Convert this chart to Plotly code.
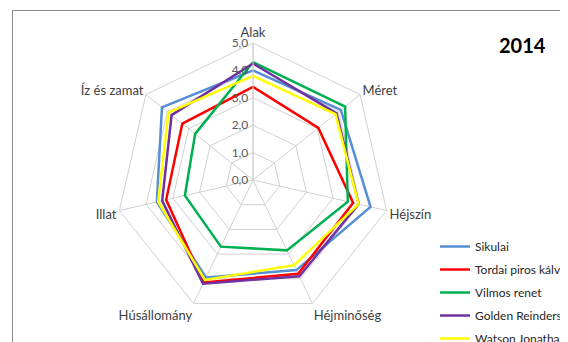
import plotly.graph_objects as go

categories = ["Alak", "Méret", "Héjszín", "Héjminőség", "Húsállomány", "Illat", "Íz és zamat"]

series_names = ["Sikulai", "Tordai piros kálvi", "Vilmos renet", "Golden Reinders", "Watson Jonathan"]
sikulai = [4.0, 4.1, 4.4, 3.65, 3.95, 3.6, 4.25]
tordai = [3.4, 3.05, 3.75, 3.8, 4.15, 3.25, 3.3]
vilmos = [4.3, 4.3, 3.55, 2.85, 2.7, 2.55, 2.7]
golden = [4.25, 3.9, 3.95, 3.9, 4.2, 3.4, 3.8]
watson = [3.8, 3.85, 3.95, 3.45, 4.05, 3.55, 3.95]
series_values = [sikulai, tordai, vilmos, golden, watson]
colors = ["#558ED5", "#FF0000", "#00B050", "#7030A0", "#FFFF00"]

OFF = 8  # page body margin offset
W, H = 568 - OFF, 342 - OFF
cx, cy, R = 253 - OFF, 180 - OFF, 137

fig = go.Figure()
for name, vals, col in zip(series_names, series_values, colors):
    fig.add_trace(go.Scatterpolar(
        r=vals + vals[:1], theta=categories + categories[:1],
        mode="lines", name=name, line=dict(color=col, width=2.5),
        legendgroup=name,
    ))

frame_left = (12.5 - OFF) / W
frame_top = 1 - (10.5 - OFF) / H

fig.update_layout(
    width=W, height=H,
    margin=dict(l=0, r=0, t=0, b=0, autoexpand=False),
    paper_bgcolor="white",
    separators=",.",
    font=dict(family="Lato, Open Sans, sans-serif", color="#404040", size=12),
    showlegend=True,
    legend=dict(x=(435 - OFF) / W, y=1 - (232 - OFF) / H, xanchor="left", yanchor="top",
                font=dict(size=12, color="#262626"), bgcolor="rgba(0,0,0,0)",
                tracegroupgap=4, itemwidth=30, maxheight=600),
    polar=dict(
        domain=dict(x=[(cx - R) / W, (cx + R) / W], y=[1 - (cy + R) / H, 1 - (cy - R) / H]),
        bgcolor="white",
        gridshape="linear",
        radialaxis=dict(range=[0, 5], dtick=1, tickformat=".1f", angle=90, tickangle=90,
                        side="counterclockwise", showline=True, linecolor="#D0D0D0", linewidth=1,
                        gridcolor="#D0D0D0", ticks="", tickfont=dict(size=12, color="#595959")),
        angularaxis=dict(direction="clockwise", rotation=90, linecolor="#D0D0D0", linewidth=1,
                         gridcolor="#D0D0D0", ticks="", tickfont=dict(size=13, color="#404040")),
    ),
    shapes=[
        dict(type="line", xref="paper", yref="paper", x0=frame_left, x1=1.0,
             y0=frame_top, y1=frame_top, line=dict(color="#8C8C8C", width=1)),
        dict(type="line", xref="paper", yref="paper", x0=frame_left, x1=frame_left,
             y0=0.0, y1=frame_top, line=dict(color="#8C8C8C", width=1)),
    ],
    annotations=[dict(text="<b>2014</b>", x=(522 - OFF) / W, y=1 - (45 - OFF) / H,
                      xref="paper", yref="paper", xanchor="center", yanchor="middle",
                      showarrow=False,
                      font=dict(size=20, color="#000000", family="Lato, sans-serif"))],
)

fig.write_html("out.html")
